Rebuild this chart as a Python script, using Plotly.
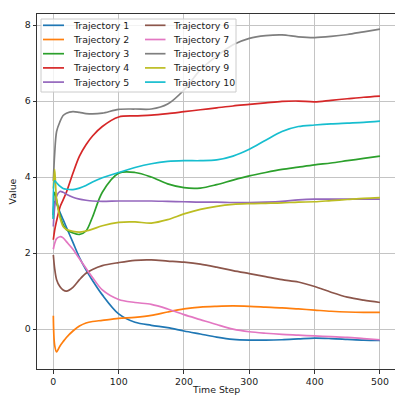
import plotly.graph_objects as go

# Shared sample times for every trajectory
time_steps = [0, 2, 5, 10, 15, 20, 30, 40, 50, 60, 75, 100, 125, 150, 175,
              200, 225, 250, 275, 300, 325, 350, 375, 400, 425, 450, 475, 500]

traj_1 = [3.0, 3.35, 3.3, 3.08, 2.88, 2.68, 2.28, 1.88, 1.56, 1.28, 0.9, 0.4, 0.18, 0.1, 0.04,
          -0.05, -0.13, -0.21, -0.27, -0.29, -0.29, -0.28, -0.26, -0.24, -0.25, -0.27, -0.29, -0.3]
traj_2 = [0.35, -0.42, -0.6, -0.45, -0.33, -0.22, -0.05, 0.08, 0.16, 0.2, 0.23, 0.28, 0.31, 0.36, 0.45,
          0.53, 0.58, 0.6, 0.61, 0.6, 0.58, 0.56, 0.53, 0.5, 0.47, 0.45, 0.44, 0.44]
traj_3 = [2.9, 3.6, 3.4, 3.0, 2.75, 2.62, 2.53, 2.49, 2.58, 2.95, 3.6, 4.1, 4.12, 4.0, 3.82,
          3.72, 3.71, 3.8, 3.92, 4.03, 4.12, 4.2, 4.26, 4.32, 4.37, 4.43, 4.49, 4.55]
traj_4 = [2.35, 2.6, 2.85, 3.2, 3.4, 3.6, 4.1, 4.55, 4.85, 5.08, 5.33, 5.58, 5.61, 5.63, 5.67,
          5.72, 5.77, 5.82, 5.87, 5.91, 5.95, 5.99, 6.0, 5.98, 6.02, 6.06, 6.1, 6.13]
traj_5 = [2.7, 3.2, 3.5, 3.62, 3.6, 3.55, 3.47, 3.42, 3.39, 3.37, 3.36, 3.37, 3.37, 3.37, 3.36,
          3.35, 3.34, 3.34, 3.33, 3.33, 3.34, 3.36, 3.4, 3.42, 3.42, 3.42, 3.42, 3.42]
traj_6 = [1.95, 1.6, 1.3, 1.12, 1.03, 1.0, 1.1, 1.3, 1.47, 1.57, 1.67, 1.75, 1.81, 1.82, 1.79,
          1.76, 1.71, 1.63, 1.54, 1.46, 1.38, 1.3, 1.24, 1.12, 0.97, 0.84, 0.76, 0.7]
traj_7 = [2.1, 2.25, 2.38, 2.43, 2.4, 2.3, 2.1, 1.85, 1.6, 1.36, 1.03, 0.78, 0.7, 0.65, 0.53,
          0.38, 0.25, 0.12, 0.0, -0.07, -0.11, -0.14, -0.16, -0.18, -0.2, -0.22, -0.25, -0.28]
traj_8 = [3.9, 4.6, 5.2, 5.45, 5.62, 5.68, 5.72, 5.7, 5.67, 5.66, 5.68, 5.78, 5.79, 5.79, 5.92,
          6.29, 6.82, 7.18, 7.48, 7.65, 7.72, 7.74, 7.69, 7.67, 7.7, 7.75, 7.82, 7.89]
traj_9 = [3.7, 4.2, 3.4, 2.95, 2.7, 2.62, 2.57, 2.55, 2.58, 2.63, 2.72, 2.81, 2.82, 2.79, 2.88,
          3.03, 3.15, 3.23, 3.28, 3.3, 3.31, 3.32, 3.34, 3.35, 3.38, 3.41, 3.44, 3.46]
traj_10 = [2.9, 3.9, 3.85, 3.76, 3.7, 3.68, 3.67, 3.71, 3.78, 3.87, 3.98, 4.12, 4.25, 4.35, 4.41,
           4.43, 4.43, 4.45, 4.55, 4.73, 4.97, 5.2, 5.33, 5.37, 5.4, 5.42, 5.44, 5.47]

series = [traj_1, traj_2, traj_3, traj_4, traj_5, traj_6, traj_7, traj_8, traj_9, traj_10]
names = [f"Trajectory {i}" for i in range(1, 11)]
colors = ["#1f77b4", "#ff7f0e", "#2ca02c", "#d62728", "#9467bd",
          "#8c564b", "#e377c2", "#7f7f7f", "#bcbd22", "#17becf"]

x_ticks = [0, 100, 200, 300, 400, 500]
y_ticks = [0, 2, 4, 6, 8]

W, H = 395, 396
ML, MR, MT, MB = 37, 0, 14, 27
PW, PH = W - ML - MR, H - MT - MB
FONT = "DejaVu Sans"
TEXT = "#1a1a1a"


def px_x(p):
    return (p - ML) / PW


def px_y(p):
    return 1 - (p - MT) / PH


fig = go.Figure()
for name, vals, col in zip(names, series, colors):
    fig.add_trace(go.Scatter(
        x=time_steps, y=vals, name=name, mode="lines",
        line=dict(color=col, width=1.7, shape="spline", smoothing=0.9),
        showlegend=False,
    ))

# Legend: two columns of five entries inside the top-left corner
shapes = [dict(type="rect", xref="paper", yref="paper",
               x0=px_x(41), x1=px_x(236), y0=px_y(92), y1=px_y(19),
               fillcolor="rgba(255,255,255,0.8)", line=dict(color="#cccccc", width=1),
               layer="above")]
annotations = []
row_y = [25.3, 39.5, 53.7, 67.9, 82.1]
col_line = [(43, 64), (145, 165.5)]
col_text = [70.5, 171]
for i, (name, col) in enumerate(zip(names, colors)):
    c, r = divmod(i, 5)
    yy = px_y(row_y[r])
    shapes.append(dict(type="line", xref="paper", yref="paper",
                       x0=px_x(col_line[c][0]), x1=px_x(col_line[c][1]), y0=yy, y1=yy,
                       line=dict(color=col, width=1.7), layer="above"))
    annotations.append(dict(xref="paper", yref="paper", x=px_x(col_text[c]), y=yy,
                            text=name, showarrow=False, xanchor="left", yanchor="middle",
                            font=dict(family=FONT, size=9.4, color=TEXT)))

# x-axis title placed close to the bottom edge of the figure
annotations.append(dict(xref="paper", yref="paper", x=0.5, y=px_y(396),
                        text="Time Step", showarrow=False, xanchor="center", yanchor="bottom",
                        borderpad=0, font=dict(family=FONT, size=9.4, color=TEXT)))

axis_common = dict(
    showgrid=True, gridcolor="#c4c4c4", gridwidth=1,
    showline=True, linecolor="#333", linewidth=1, mirror=True,
    ticks="outside", ticklen=3.5, tickwidth=1, tickcolor="#333",
    tickfont=dict(family=FONT, size=9.4, color=TEXT),
    zeroline=False, automargin=False,
)

fig.update_layout(
    width=W, height=H,
    margin=dict(l=ML, r=MR, t=MT, b=MB),
    paper_bgcolor="white", plot_bgcolor="white",
    xaxis=dict(range=[-25, 523], tickvals=x_ticks, **axis_common),
    yaxis=dict(range=[-1.05, 8.29], tickvals=y_ticks,
               title=dict(text="Value", font=dict(family=FONT, size=9.4, color=TEXT), standoff=6),
               **axis_common),
    shapes=shapes, annotations=annotations,
    showlegend=False,
)

fig.write_html("out.html")
